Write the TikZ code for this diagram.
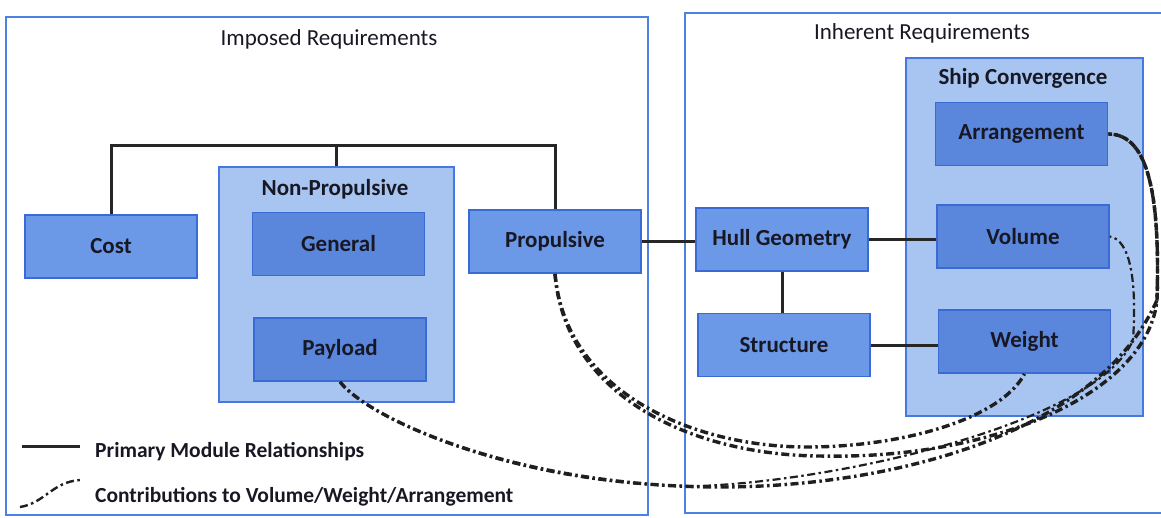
\documentclass[tikz,border=0pt]{standalone}
\usepackage{fontspec}
\setmainfont{Carlito}
\definecolor{outerblue}{RGB}{75,130,228}
\definecolor{contblue}{RGB}{70,120,225}
\definecolor{contfill}{RGB}{168,197,242}
\definecolor{boxblue}{RGB}{58,106,212}
\definecolor{boxfill}{RGB}{108,152,232}
\definecolor{innerfill}{RGB}{90,134,220}
\definecolor{txt}{RGB}{24,24,36}
\newcommand{\lblfont}{\fontsize{23}{28}\selectfont\bfseries}
\newcommand{\titlefont}{\fontsize{23}{28}\selectfont}
\newcommand{\legfont}{\fontsize{21.5}{26}\selectfont\bfseries}
\begin{document}
\begin{tikzpicture}[x=1pt,y=-1pt,
  outerbox/.style={draw=outerblue, line width=1.5pt, inner sep=0pt},
  container/.style={draw=contblue, fill=contfill, line width=1.8pt, inner sep=0pt},
  modbox/.style={draw=boxblue, fill=boxfill, line width=1.8pt, minimum width=172pt, minimum height=63pt, inner sep=0pt, font=\lblfont, text=txt},
  innerbox/.style={modbox, fill=innerfill},
  titletext/.style={font=\titlefont, text=txt, inner sep=0pt},
  subtitle/.style={font=\lblfont, text=txt, inner sep=0pt},
  legtext/.style={font=\legfont, text=txt, inner sep=0pt, anchor=west},
  rel/.style={line width=3pt, draw=black!85},
  contrib/.style={line width=3.4pt, dash pattern=on 8pt off 3.5pt on 2.5pt off 3.5pt, draw=black!88},
  contribthin/.style={contrib, line width=2.2pt}]
\useasboundingbox (0,0) rectangle (1161,517);
\clip (0,0) rectangle (1161,517);
% outer frames
\node[outerbox, minimum width=642pt, minimum height=498pt] (imposed) at (327,266) {};
\node[outerbox, minimum width=490pt, minimum height=500pt] (inherent) at (930,263) {};
\node[titletext] (imptitle) at (329,39) {Imposed Requirements};
\node[titletext] (inhtitle) at (922,33) {Inherent Requirements};
% containers
\node[container, minimum width=235pt, minimum height=235pt] (nonprop) at (336.5,284.5) {};
\node[subtitle] (nonproptitle) at (335,189) {Non-Propulsive};
\node[container, minimum width=237pt, minimum height=358pt] (shipconv) at (1024.5,237) {};
\node[subtitle] (shipconvtitle) at (1023,78) {Ship Convergence};
% modules
\node[modbox] (cost) at (111,246.5) {Cost};
\node[innerbox] (general) at (338.5,244) {General};
\node[innerbox] (payload) at (340,349.5) {Payload};
\node[modbox] (prop) at (555,241.5) {Propulsive};
\node[modbox] (hull) at (782,239.5) {Hull Geometry};
\node[modbox] (structure) at (784,345) {Structure};
\node[innerbox] (arr) at (1021.5,134) {Arrangement};
\node[innerbox] (vol) at (1023,236.5) {Volume};
\node[innerbox] (weight) at (1024.5,341.5) {Weight};
% primary relationships
\coordinate (treetop) at (0,145);
\draw[rel] (cost.north) |- (treetop -| nonprop.north) -| (prop.north);
\draw[rel] (nonprop.north) -- (treetop -| nonprop.north);
\draw[rel] (prop.east) -- (prop.east -| hull.west);
\draw[rel] (hull.east) -- (hull.east -| vol.west);
\draw[rel] (hull.south) -- (structure.north -| hull.south);
\draw[rel] (structure.east) -- (structure.east -| weight.west);
% contributions
\draw[contrib] (prop.south) .. controls (565,390) and (690,447) .. (807,447) .. controls (900,447) and (1000,420) .. (weight.south);
\draw[contrib] (prop.south) .. controls (565,395) and (690,455) .. (820,456) .. controls (1000,460) and (1148,390) .. (1157,300) .. controls (1160,200) and (1150,134) .. (arr.east);
\draw[contrib] (payload.south) .. controls (370,420) and (520,487) .. (720,487) .. controls (900,487) and (1100,430) .. (1157,300) .. controls (1160,200) and (1150,134) .. (arr.east);
\draw[contribthin] (payload.south) .. controls (370,420) and (520,487) .. (700,486) .. controls (850,480) and (1100,420) .. (1133,340) .. controls (1137,280) and (1130,240) .. (vol.east);
% legend
\coordinate (lega) at (22,446);
\coordinate (legb) at (80,446);
\draw[rel] (lega) -- (legb);
\node[legtext] (legone) at (95,452) {Primary Module Relationships};
\coordinate (legc) at (20,507);
\coordinate (legd) at (80,480);
\draw[contrib, line width=2.4pt] (legc) .. controls (45,503) and (52,482) .. (legd);
\node[legtext] (legtwo) at (95,497) {Contributions to Volume/Weight/Arrangement};
\end{tikzpicture}
\end{document}
